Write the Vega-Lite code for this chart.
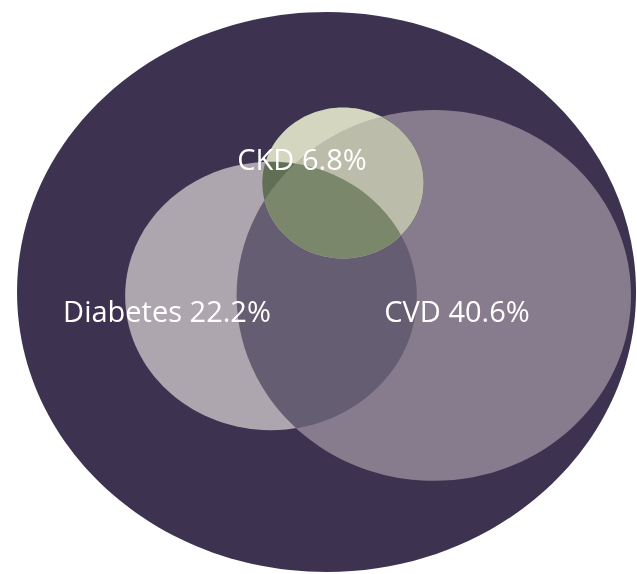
{
  "$schema": "https://vega.github.io/schema/vega-lite/v6.json",
  "width": 637,
  "height": 574,
  "autosize": {"type": "none"},
  "padding": 0,
  "background": "white",
  "config": {"view": {"stroke": null}},
  "datasets": {
    "sets": [
      {"set": "Total", "pct": 100, "cx": 51.26, "cy": 50.87},
      {"set": "CVD", "pct": 40.6, "cx": 68.1, "cy": 51.48},
      {"set": "Diabetes", "pct": 22.2, "cx": 42.54, "cy": 51.57},
      {"set": "CKD", "pct": 6.8, "cx": 53.85, "cy": 31.88}
    ],
    "labels": [
      {"label": "Diabetes 22.2%", "lx": 26.22, "ly": 56.1},
      {"label": "CVD 40.6%", "lx": 71.74, "ly": 56.1},
      {"label": "CKD 6.8%", "lx": 47.41, "ly": 29.6}
    ]
  },
  "encoding": {
    "x": {"field": "cx", "type": "quantitative", "scale": {"domain": [0, 100]}, "axis": null},
    "y": {"field": "cy", "type": "quantitative", "scale": {"domain": [0, 100], "reverse": true}, "axis": null},
    "size": {"field": "pct", "type": "quantitative", "scale": {"type": "linear", "domain": [0, 100], "range": [0, 383161], "zero": true}, "legend": null}
  },
  "layer": [
    {
      "data": {"name": "sets"},
      "transform": [{"filter": {"field": "set", "equal": "Total"}}],
      "mark": {"type": "point", "filled": true, "opacity": 1, "color": "#3d3350", "strokeWidth": 0,
        "shape": "M1,0C1,0.4998,0.5523,0.905,0,0.905C-0.5523,0.905,-1,0.4998,-1,0C-1,-0.4998,-0.5523,-0.905,0,-0.905C0.5523,-0.905,1,-0.4998,1,0Z"}
    },
    {
      "data": {"name": "sets"},
      "transform": [{"filter": {"field": "set", "equal": "CVD"}}],
      "mark": {"type": "point", "filled": true, "opacity": 1, "color": "#867c8e", "strokeWidth": 0,
        "shape": "M1,0C1,0.5192,0.5523,0.94,0,0.94C-0.5523,0.94,-1,0.5192,-1,0C-1,-0.5192,-0.5523,-0.94,0,-0.94C0.5523,-0.94,1,-0.5192,1,0Z"}
    },
    {
      "data": {"name": "sets"},
      "transform": [{"filter": {"field": "set", "equal": "CKD"}}],
      "mark": {"type": "point", "filled": true, "opacity": 0.6, "color": "#2c2f37", "strokeWidth": 0,
        "shape": "M1,0C1,0.5164,0.5523,0.935,0,0.935C-0.5523,0.935,-1,0.5164,-1,0C-1,-0.5164,-0.5523,-0.935,0,-0.935C0.5523,-0.935,1,-0.5164,1,0Z"}
    },
    {
      "data": {"name": "sets"},
      "transform": [{"filter": {"field": "set", "equal": "Diabetes"}}],
      "mark": {"type": "point", "filled": true, "opacity": 1, "color": "#ebd9ff", "strokeWidth": 0, "blend": "difference",
        "shape": "M1,0C1,0.5081,0.5523,0.92,0,0.92C-0.5523,0.92,-1,0.5081,-1,0C-1,-0.5081,-0.5523,-0.92,0,-0.92C0.5523,-0.92,1,-0.5081,1,0Z"}
    },
    {
      "data": {"name": "sets"},
      "transform": [{"filter": {"field": "set", "equal": "CKD"}}],
      "mark": {"type": "point", "filled": true, "opacity": 1, "color": "#ffffff", "strokeWidth": 0, "blend": "difference",
        "shape": "M1,0C1,0.5164,0.5523,0.935,0,0.935C-0.5523,0.935,-1,0.5164,-1,0C-1,-0.5164,-0.5523,-0.935,0,-0.935C0.5523,-0.935,1,-0.5164,1,0Z"}
    },
    {
      "data": {"name": "sets"},
      "transform": [{"filter": {"field": "set", "equal": "CKD"}}],
      "mark": {"type": "point", "filled": true, "opacity": 0.15, "color": "#ffffc8", "strokeWidth": 0,
        "shape": "M1,0C1,0.5164,0.5523,0.935,0,0.935C-0.5523,0.935,-1,0.5164,-1,0C-1,-0.5164,-0.5523,-0.935,0,-0.935C0.5523,-0.935,1,-0.5164,1,0Z"}
    },
    {
      "data": {"name": "labels"},
      "mark": {"type": "text", "color": "white", "font": "Open Sans", "fontSize": 29, "align": "center", "baseline": "alphabetic"},
      "encoding": {
        "x": {"field": "lx", "type": "quantitative"},
        "y": {"field": "ly", "type": "quantitative"},
        "size": null,
        "text": {"field": "label", "type": "nominal"}
      }
    }
  ]
}
